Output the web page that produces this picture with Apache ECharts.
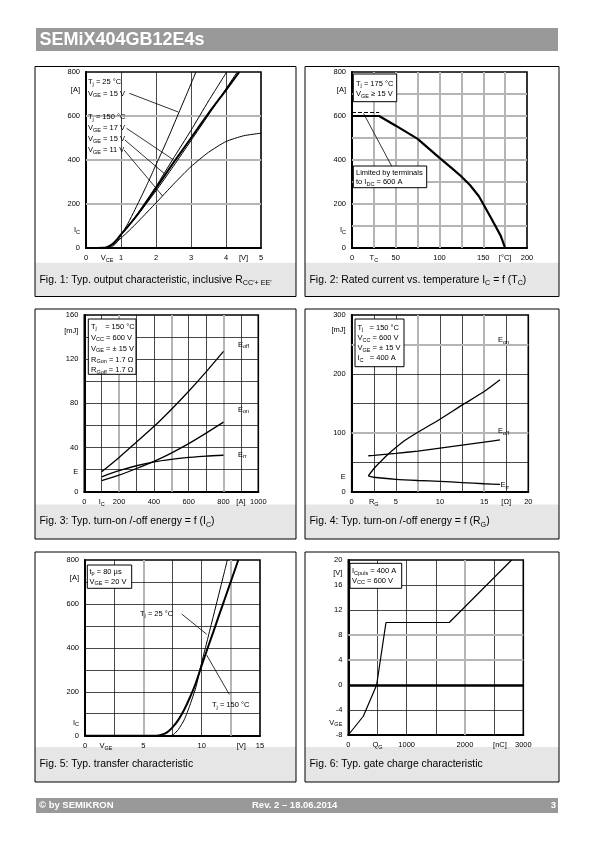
<!DOCTYPE html>
<html><head><meta charset="utf-8">
<script src="https://cdn.jsdelivr.net/npm/echarts@6/dist/echarts.min.js"></script>
<style>html,body{margin:0;padding:0;background:#fff}#c{width:595px;height:842px}</style>
</head><body><div id="c"></div>
<script>
// ---------------- DATA ----------------
// Fig 1: output characteristic  (VCE [V], IC [A])
const f1_T25_V15_v  = [0,0.6,0.7,0.8,0.9,1.0,1.2,1.4,1.6,1.8,2.0,2.2,2.4,2.66,2.9,3.14];
const f1_T25_V15_i  = [0,1,4,12,30,58,112,175,240,308,378,448,520,618,708,800];
const f1_T150_V17_v = [0,0.5,0.6,0.7,0.8,0.9,1.0,1.2,1.5,2.0,2.48,3.0,3.5,4.02];
const f1_T150_V17_i = [0,1,4,12,24,42,62,100,162,280,403,535,668,800];
const f1_T150_V15_v = [0,0.5,0.6,0.7,0.8,0.9,1.0,1.2,1.5,2.0,2.5,3.0,3.5,4.0,4.38];
const f1_T150_V15_i = [0,1,4,12,24,41,62,98,158,272,388,500,612,718,800];
const f1_T150_V15b_v = [0,0.5,0.6,0.7,0.8,0.9,1.0,1.5,2.0,2.5,3.0,3.5,4.0,4.32];
const f1_T150_V15b_i = [0,1,3,10,21,38,60,155,260,372,488,605,724,800];
const f1_T150_V11_v = [0,0.5,0.6,0.7,0.8,0.9,1.0,1.25,1.5,2.0,2.5,3.0,3.5,4.0,4.5,5.0];
const f1_T150_V11_i = [0,1,3,9,18,30,45,82,122,205,290,370,435,484,510,522];
// Fig 2: rated current vs Tc
const f2_tc = [0,31,50,75,100,115,125,135,145,150,160,170,175];
const f2_ic = [600,600,556,496,410,360,325,285,235,200,128,55,0];
const f2_lim_tc = [0,31];
const f2_lim_ic = [616,616];
// Fig 3: energy vs IC
const f3_ic   = [100,200,300,400,500,600,700,800];
const f3_eoff = [18,31,45,59,74.5,91,108.5,127];
const f3_eon  = [10,15,21,27.5,35,43.5,53,63];
const f3_err  = [13.5,19,23.5,27,29.3,31,32.3,33];
// Fig 4: energy vs RG
const f4_rg_on = [1.88,2.5,3,4,5,6,7.5,10,12.5,15,16.8];
const f4_eon   = [27,39,47,62,75,87,101,123,147,170,190];
const f4_rg    = [1.88,2.5,5,7.5,10,12.5,15,16.8];
const f4_eoff  = [61,61.5,65,69,74,79,84,88];
const f4_err   = [26.7,24.5,21,19,17.5,15.5,13.5,12.3];
// Fig 5: transfer characteristic
const f5_v25  = [0,7.3,7.6,8,8.5,9,9.5,10,10.5,11,11.5,12,12.2];
const f5_i25  = [0,0,6,28,72,140,220,332,438,544,650,757,800];
const f5_v150 = [0,6.1,6.5,7,7.5,8,8.5,9,9.5,10,10.5,11,11.5,12,12.5,13.14];
const f5_i150 = [0,0,3,14,38,72,118,175,240,320,397,473,550,626,702,800];
// Fig 6: gate charge
const f6_q = [0,257,486,646,1731,2800];
const f6_v = [-8,-5,0,10,10,20];

// tick labels
const f1_xTicks = [[0,'0'],[0.6,'V_{CE}'],[1,'1'],[2,'2'],[3,'3'],[4,'4'],[4.5,'[V]'],[5,'5']];
const f1_yTicks = [[0,'0'],[80,'I_{C}'],[200,'200'],[400,'400'],[600,'600'],[720,'[A]'],[800,'800']];
const f2_xTicks = [[0,'0'],[25,'T_{C}'],[50,'50'],[100,'100'],[150,'150'],[175,'[°C]'],[200,'200']];
const f2_yTicks = [[0,'0'],[80,'I_{C}'],[200,'200'],[400,'400'],[600,'600'],[720,'[A]'],[800,'800']];
const f3_xTicks = [[0,'0'],[100,'I_{C}'],[200,'200'],[400,'400'],[600,'600'],[800,'800'],[900,'[A]'],[1000,'1000']];
const f3_yTicks = [[0,'0'],[18,'E'],[40,'40'],[80,'80'],[120,'120'],[146,'[mJ]'],[160,'160']];
const f4_xTicks = [[0,'0'],[2.5,'R_{G}'],[5,'5'],[10,'10'],[15,'15'],[17.5,'[Ω]'],[20,'20']];
const f4_yTicks = [[0,'0'],[25,'E'],[100,'100'],[200,'200'],[275,'[mJ]'],[300,'300']];
const f5_xTicks = [[0,'0'],[1.8,'V_{GE}'],[5,'5'],[10,'10'],[13.4,'[V]'],[15,'15']];
const f5_yTicks = [[0,'0'],[60,'I_{C}'],[200,'200'],[400,'400'],[600,'600'],[720,'[A]'],[800,'800']];
const f6_xTicks = [[0,'0'],[500,'Q_{G}'],[1000,'1000'],[2000,'2000'],[2600,'[nC]'],[3000,'3000']];
const f6_yTicks = [[-8,'-8'],[-6,'V_{GE}'],[-4,'-4'],[0,'0'],[4,'4'],[8,'8'],[12,'12'],[16,'16'],[18,'[V]'],[20,'20']];

// ---------------- BUILD ----------------
const F = "'Liberation Sans', Arial, Helvetica, sans-serif";
function mkRich(fs, sfs, color, bold){
  color = color || '#000';
  const fw = bold ? 'bold' : 'normal';
  return { n:{fontSize:fs,fontFamily:F,fontWeight:fw,color,lineHeight:fs+3,verticalAlign:'middle'},
           s:{fontSize:sfs,fontFamily:F,fontWeight:fw,color,lineHeight:sfs,verticalAlign:'bottom'} };
}
const R_TICK = mkRich(7.5,5.5);
const R_ANN = mkRich(7.5,5.5);
const R_CAP = mkRich(10.4,7.2);
function rt(s){ return '{n|' + s.replace(/_\{([^}]*)\}/g, '}{s|$1}{n|') + '}'; }
function zip(a,b){ return a.map((v,i)=>[v,b[i]]); }

const gridDefs = [
 {left:86, top:72, width:175, height:176},
 {left:352, top:72, width:175, height:176},
 {left:84.3, top:315, width:174, height:176.7},
 {left:351.7, top:315, width:176.6, height:176.7},
 {left:85, top:560, width:175, height:175.7},
 {left:348.3, top:560, width:175, height:175}
].map(g=>Object.assign({show:true, borderColor:'#000', borderWidth:1.6, backgroundColor:'transparent', containLabel:false}, g));

function mkAxis(dim, gi, min, max, interval, ticks){
  return {type:'value', gridIndex:gi, min, max, interval,
    axisLine:{show:true, onZero:false, lineStyle:{color:'#000', width:2}},
    axisTick:{show:false}, splitLine:{show:false},
    axisLabel:{show:true, margin: dim==='x'?5:6, color:'#000',
      formatter: v => { const t = ticks.find(t=>Math.abs(t[0]-v)<1e-6); return t ? rt(t[1]) : ''; },
      rich:R_TICK, showMinLabel:true, showMaxLabel:true}};
}
const xAxes = [
  mkAxis('x',0,0,5,0.1,f1_xTicks),
  mkAxis('x',1,0,200,5,f2_xTicks),
  mkAxis('x',2,0,1000,100,f3_xTicks),
  mkAxis('x',3,0,20,2.5,f4_xTicks),
  mkAxis('x',4,0,15,0.1,f5_xTicks),
  mkAxis('x',5,0,3000,100,f6_xTicks)
];
const yAxes = [
  mkAxis('y',0,0,800,20,f1_yTicks),
  mkAxis('y',1,0,800,20,f2_yTicks),
  mkAxis('y',2,0,160,2,f3_yTicks),
  mkAxis('y',3,0,300,25,f4_yTicks),
  mkAxis('y',4,0,800,20,f5_yTicks),
  mkAxis('y',5,-8,20,2,f6_yTicks)
];

const series = [];
function curve(gi, xs, ys, w, opts){
  series.push(Object.assign({type:'line', xAxisIndex:gi, yAxisIndex:gi, data:zip(xs,ys), symbol:'none', showSymbol:false,
    smooth:0.2, lineStyle:{color:'#000', width:w}, z:5, silent:true, animation:false}, opts||{}));
}
const K = {color:'#1a1a1a', width:0.8, type:'solid'};
const GR = {color:'#b5b5b5', width:2, type:'solid'};
function gridLines(gi, spec){
  const data = [];
  spec.forEach(([axis, vals, st]) => vals.forEach(v => data.push({[axis]: v, lineStyle: st})));
  series.push({type:'line', xAxisIndex:gi, yAxisIndex:gi, data:[], z:1, silent:true, animation:false,
    markLine:{silent:true, symbol:['none','none'], label:{show:false}, animation:false, data}});
}
function leaders(gi, segs){
  series.push({type:'line', xAxisIndex:gi, yAxisIndex:gi, data:[], z:6, silent:true, animation:false,
    markLine:{silent:true, symbol:['none','none'], label:{show:false}, animation:false,
      lineStyle:{color:'#000', width:0.8, type:'solid'},
      data: segs.map(s=>[{coord:s[0]},{coord:s[1]}])}});
}

// grid lines
gridLines(0, [['xAxis',[1,2,3,4],K], ['yAxis',[200,400,600],GR]]);
gridLines(1, [['xAxis',[25,50,75,100,125,150,175],GR], ['yAxis',[100,200,300,400,500,600,700],GR]]);
gridLines(2, [['xAxis',[100,300,400,600,700,900],K], ['xAxis',[200,500,800],GR], ['yAxis',[20,40,60,80,100,120,140],K]]);
gridLines(3, [['xAxis',[2.5,5,10,12.5,17.5],K], ['xAxis',[7.5,15],GR], ['yAxis',[50,150,200],K], ['yAxis',[100,250],GR]]);
gridLines(4, [['xAxis',[2.5,7.5,10],K], ['xAxis',[5,12.5],GR], ['yAxis',[100,200,300,400,500,600,700],K]]);
gridLines(5, [['xAxis',[500,1000,1500,2500],K], ['xAxis',[2000],GR], ['yAxis',[-4,12,16],K], ['yAxis',[4,8],GR], ['yAxis',[0],{color:'#000',width:2.6,type:'solid'}]]);

// curves
curve(0, f1_T25_V15_v, f1_T25_V15_i, 1);
curve(0, f1_T150_V17_v, f1_T150_V17_i, 1);
curve(0, f1_T150_V15b_v, f1_T150_V15b_i, 1);
curve(0, f1_T150_V15_v, f1_T150_V15_i, 2);
curve(0, f1_T150_V11_v, f1_T150_V11_i, 1);
curve(1, f2_tc, f2_ic, 2.2, {smooth:false});
curve(1, f2_lim_tc, f2_lim_ic, 1, {smooth:false, lineStyle:{color:'#000', width:1, type:[4,2]}});
curve(2, f3_ic, f3_eoff, 1.3);
curve(2, f3_ic, f3_eon, 1.3);
curve(2, f3_ic, f3_err, 1.3);
curve(3, f4_rg_on, f4_eon, 1.3);
curve(3, f4_rg, f4_eoff, 1.3);
curve(3, f4_rg, f4_err, 1.3);
curve(4, f5_v25, f5_i25, 1);
curve(4, f5_v150, f5_i150, 2);
curve(5, f6_q, f6_v, 1.2, {smooth:false});

// leader lines (annotation, in data units)
leaders(0, [[[1.24,703],[2.64,618]], [[1.16,544],[2.48,403]], [[1.11,491],[2.24,338]], [[1.09,445],[2.19,236]]]);
leaders(1, [[[13.3,611],[45.4,372]]]);
leaders(4, [[[8.29,554],[10.43,462]], [[12.37,188],[10.43,367]]]);

// ---------------- GRAPHICS ----------------
const graphics = [];
function txt(x,y,s,opts){ graphics.push({type:'text', x, y, z:20, silent:true, style:Object.assign({text:rt(s), rich:R_ANN, verticalAlign:'middle', align:'left'}, opts||{})}); }
function box(x,y,w,h){ graphics.push({type:'rect', z:15, silent:true, shape:{x,y,width:w,height:h}, style:{fill:'#fff', stroke:'#000', lineWidth:1}}); }

// header / footer
graphics.push({type:'rect', z:0, shape:{x:36,y:28,width:522,height:23}, style:{fill:'#999999'}});
graphics.push({type:'text', z:1, x:39.5, y:40, style:{text:'SEMiX404GB12E4s', fill:'#fff', fontSize:18, fontWeight:'bold', fontFamily:F, verticalAlign:'middle'}});
graphics.push({type:'rect', z:0, shape:{x:36,y:798,width:522,height:15}, style:{fill:'#999999'}});
graphics.push({type:'text', z:1, x:39, y:805.5, style:{text:'© by SEMIKRON', fill:'#fff', fontSize:9.5, fontWeight:'bold', fontFamily:F, verticalAlign:'middle'}});
graphics.push({type:'text', z:1, x:252, y:805.5, style:{text:'Rev. 2 – 18.06.2014', fill:'#fff', fontSize:9.5, fontWeight:'bold', fontFamily:F, verticalAlign:'middle'}});
graphics.push({type:'text', z:1, x:556, y:805.5, style:{text:'3', fill:'#fff', fontSize:9.5, fontWeight:'bold', fontFamily:F, verticalAlign:'middle', align:'right'}});

// panel frames and captions
const colX = [35, 305], colW = [261, 254];
const rowY = [66.5, 309, 552], rowH = 230, capY = [262.7, 504.5, 747], capTextY = [280, 521.5, 764];
const captions = [
 "Fig. 1: Typ. output characteristic, inclusive R_{CC'+ EE'}",
 "Fig. 2: Rated current vs. temperature I_{C} = f (T_{C})",
 "Fig. 3: Typ. turn-on /-off energy = f (I_{C})",
 "Fig. 4: Typ. turn-on /-off energy = f (R_{G})",
 "Fig. 5: Typ. transfer characteristic",
 "Fig. 6: Typ. gate charge characteristic"
];
for (let i=0;i<6;i++){
  const c = i%2, r = Math.floor(i/2);
  graphics.push({type:'rect', z:0, silent:true, shape:{x:colX[c], y:capY[r], width:colW[c], height:rowY[r]+rowH-capY[r]}, style:{fill:'#e6e6e6'}});
  graphics.push({type:'rect', z:1, silent:true, shape:{x:colX[c], y:rowY[r], width:colW[c], height:rowH}, style:{fill:'none', stroke:'#000', lineWidth:1}});
  graphics.push({type:'text', z:2, silent:true, x:colX[c]+4.5, y:capTextY[r], style:{text:rt(captions[i]), rich:R_CAP, verticalAlign:'middle'}});
}

// Fig 1 annotations
txt(88,82,'T_{j} = 25 °C'); txt(88,93.5,'V_{GE} = 15 V');
txt(88,117,'T_{j} = 150 °C'); txt(88,128,'V_{GE} = 17 V'); txt(88,139,'V_{GE} = 15 V'); txt(88,150,'V_{GE} = 11 V');
// Fig 2
box(353.3,74,43.4,27.7); txt(356,83.5,'T_{j} = 175 °C'); txt(356,94,'V_{GE} ≥ 15 V');
box(353.3,166,73.4,21.7); txt(356,172.5,'Limited by terminals'); txt(356,182,'to I_{DC} = 600 A');
// Fig 3
box(88.3,319,47.7,55.3);
txt(91,326.5,'T_{j}    = 150 °C'); txt(91,337.5,'V_{CC} = 600 V'); txt(91,348.5,'V_{GE} = ± 15 V'); txt(91,359.5,'R_{Gon} = 1.7 Ω'); txt(91,370,'R_{Goff} = 1.7 Ω');
txt(238,344.5,'E_{off}'); txt(238,409.5,'E_{on}'); txt(238,454.5,'E_{rr}');
// Fig 4
box(355,319,49,47.7);
txt(357.5,327.5,'T_{j}   = 150 °C'); txt(357.5,338,'V_{CC} = 600 V'); txt(357.5,348,'V_{GE} = ± 15 V'); txt(357.5,358,'I_{C}   = 400 A');
txt(498,340,'E_{on}'); txt(498,431,'E_{off}'); txt(500.5,485,'E_{rr}');
// Fig 5
box(87.3,565,44.4,23.3); txt(89.5,571.5,'t_{p} = 80 µs'); txt(89.5,581.5,'V_{GE} = 20 V');
txt(140,613.5,'T_{j} = 25 °C'); txt(212,705,'T_{j} = 150 °C');
// Fig 6
box(350,563.3,51.7,25); txt(352,571,'I_{Cpuls} = 400 A'); txt(352,580.5,'V_{CC} = 600 V');

const chart = echarts.init(document.getElementById('c'), null, {renderer:'canvas'});
chart.setOption({
  backgroundColor:'#fff', animation:false,
  grid: gridDefs, xAxis: xAxes, yAxis: yAxes, series, graphic: graphics
});
</script></body></html>
